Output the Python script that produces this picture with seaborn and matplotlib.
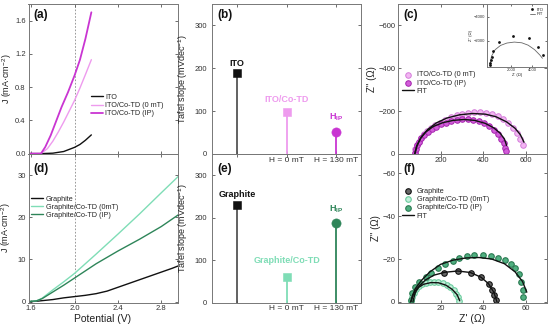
import pandas as pd
import matplotlib
matplotlib.use('Agg')
from matplotlib import pyplot as plt
import seaborn as sb

# ---------------- data ----------------
# (a) ITO based polarisation curves
pot_ito = [1.575, 1.7, 1.8, 1.9, 2.0, 2.05, 2.1, 2.155]
j_ito = [0.0, 0.0, 0.005, 0.025, 0.075, 0.11, 0.16, 0.225]
pot_ito0 = [1.575, 1.69, 1.75, 1.8, 1.85, 1.9, 1.95, 2.0, 2.05, 2.1, 2.155]
j_ito0 = [0.0, 0.0, 0.06, 0.15, 0.26, 0.38, 0.51, 0.64, 0.79, 0.95, 1.13]
pot_itoip = [1.575, 1.69, 1.73, 1.78, 1.83, 1.88, 1.94, 2.0, 2.05, 2.1, 2.155]
j_itoip = [0.0, 0.0, 0.08, 0.22, 0.39, 0.56, 0.74, 0.94, 1.13, 1.38, 1.70]

# (d) graphite based polarisation curves
pot_gr = [1.575, 1.65, 1.8, 1.9, 2.0, 2.1, 2.2, 2.3, 2.4, 2.5, 2.6, 2.7, 2.8, 2.9, 2.97]
j_gr = [0.0, 0.1, 0.5, 0.9, 1.2, 1.5, 1.9, 2.5, 3.4, 4.3, 5.2, 6.1, 7.0, 7.9, 8.6]
pot_gr0 = [1.575, 1.65, 1.7, 1.8, 1.9, 2.0, 2.2, 2.4, 2.6, 2.8, 2.97]
j_gr0 = [0.0, 0.2, 0.8, 2.8, 4.7, 6.7, 11.3, 16.0, 20.8, 25.8, 30.0]
pot_grip = [1.575, 1.65, 1.7, 1.8, 1.9, 2.0, 2.2, 2.4, 2.6, 2.8, 2.97]
j_grip = [0.0, 0.2, 0.7, 2.3, 3.9, 5.6, 9.0, 12.0, 14.8, 17.8, 20.8]

# (b), (e) Tafel slopes
tafel_cats = ['ref', 'H = 0 mT', 'H = 130 mT']
tafel_ito = [188, 97, 52]
tafel_gr = [230, 60, 187]
names_ito = ['ITO', 'ITO/Co-TD', r'$\mathbf{H_{IP}}$']
names_gr = ['Graphite', 'Graphite/Co-TD', r'$\mathbf{H_{IP}}$']

# (c) Nyquist, ITO/Co-TD
zr_ito0 = [78, 82, 88, 97, 108, 122, 138, 156, 176, 198, 222, 248, 275, 302, 330,
           358, 386, 414, 442, 468, 494, 518, 540, 558, 574, 588]
zi_ito0 = [-5, -22, -40, -58, -76, -93, -108, -122, -135, -147, -160, -172, -181, -188,
           -193, -196, -196, -193, -187, -177, -163, -145, -123, -98, -70, -40]
zr_itoip = [80, 84, 90, 99, 110, 124, 140, 158, 178, 200, 224, 250, 276, 302, 328,
            354, 380, 404, 428, 450, 470, 486, 498, 505, 508]
zi_itoip = [-5, -22, -40, -57, -73, -89, -103, -116, -128, -138, -147, -154, -159, -162,
            -162, -159, -153, -144, -131, -114, -94, -72, -50, -28, -12]
fit_zr_ito0 = [80, 90, 110, 140, 180, 230, 290, 350, 410, 460, 510, 550, 575, 592]
fit_zi_ito0 = [-2, -40, -80, -115, -145, -168, -183, -189, -186, -174, -150, -120, -90, -55]
fit_zr_itoip = [78, 88, 105, 130, 165, 210, 260, 310, 360, 410, 450, 480, 500, 510]
fit_zi_itoip = [0, -38, -72, -102, -128, -146, -157, -161, -157, -143, -122, -97, -70, -40]

# (c) inset, bare ITO
zr_ito = [0, 40, 90, 160, 300, 850, 2150, 3650, 4550, 4950]
zi_ito = [0, -150, -350, -600, -1100, -1880, -2400, -2200, -1480, -800]
fit_zr_ito = [0, 150, 500, 1000, 1600, 2300, 3000, 3600, 4200, 4700, 4940]
fit_zi_ito = [0, -700, -1250, -1600, -1800, -1880, -1820, -1620, -1250, -800, -530]

# (f) Nyquist, graphite
zr_gr = [21.5, 28, 34.3, 39.2, 42.8, 44, 45.1, 46]
zi_gr = [-13.4, -14.6, -13.7, -11.4, -8.3, -5.6, -3.3, -0.9]
zr_gr0 = [6, 6.5, 7.3, 8.4, 9.8, 11.4, 13.2, 15.1, 17, 19, 21, 22.9, 24.6, 26.1, 27.3, 28.2, 28.7]
zi_gr0 = [-0.5, -2.5, -4.3, -5.9, -7.2, -8.2, -8.9, -9.3, -9.4, -9.2, -8.7, -7.9, -6.8,
          -5.4, -3.8, -2.1, -0.5]
zr_grip = [6, 6.8, 8, 10, 13, 15.7, 18.8, 22.3, 25.7, 28.8, 32.2, 35.8, 39.7, 43.6, 47.1,
           50.2, 52.9, 54.9, 56.7, 58, 58.6, 58.7]
zi_grip = [-1, -4, -7, -9.5, -11.5, -13.7, -15.7, -17.6, -19.2, -20.4, -21.4, -22, -22.1,
           -21.6, -20.7, -19.6, -17.8, -15.6, -13.1, -9.5, -5.6, -2.5]
fit_zr_gr = [7, 8, 10, 13, 17, 22, 28, 34, 39, 42.5, 45, 46.5]
fit_zi_gr = [0, -4, -7.5, -10.3, -12.5, -13.8, -14.4, -13.7, -11.5, -8.5, -4.5, 0]
fit_zr_gr0 = [6, 7, 9, 12, 15.5, 19, 22.5, 25.5, 27.8, 29]
fit_zi_gr0 = [0, -3.5, -6.3, -8.2, -9, -8.9, -7.8, -5.8, -3.3, -0.5]
fit_zr_grip = [6, 8, 11, 15, 20, 26, 32, 38, 44, 50, 55, 58.5, 60.5]
fit_zi_grip = [0, -6, -10, -14, -17.5, -19.5, -20.5, -20.7, -20, -17.8, -14, -9.5, -4.5]

# ---------------- style ----------------
sb.set_style('ticks')
plt.rcParams['font.family'] = ['Liberation Sans', 'DejaVu Sans']
plt.rcParams.update({
    'mathtext.fontset': 'custom',
    'mathtext.rm': 'Liberation Sans',
    'mathtext.bf': 'Liberation Sans:bold',
    'mathtext.it': 'Liberation Sans:italic',
    'mathtext.default': 'regular',
    'xtick.direction': 'in', 'ytick.direction': 'in',
    'xtick.top': True, 'ytick.right': True,
    'xtick.major.size': 2.5, 'ytick.major.size': 2.5,
    'xtick.major.width': 0.6, 'ytick.major.width': 0.6,
    'xtick.labelsize': 5.5, 'ytick.labelsize': 5.5,
    'xtick.color': '#555555', 'ytick.color': '#555555',
    'xtick.labelcolor': '#333333', 'ytick.labelcolor': '#333333',
    'axes.edgecolor': '#777777', 'axes.linewidth': 0.7,
    'axes.labelsize': 7, 'axes.labelcolor': '#222222',
})

c_ito = '#111111'
c_ito0 = '#EE9BEE'
c_itoip = '#C935D2'
c_gr0 = '#7FDDB6'
c_grip = '#2E8559'

W, H = 550, 327
fig = plt.figure(figsize=(5.5, 3.27), dpi=100)


def box(x0, y0, x1, y1):
    return [x0 / W, 1 - y1 / H, (x1 - x0) / W, (y1 - y0) / H]


ax_a = fig.add_axes(box(28.5, 4, 177.5, 154))
ax_d = fig.add_axes(box(28.5, 154, 177.5, 302.5))
ax_b = fig.add_axes(box(212, 4, 361, 154))
ax_e = fig.add_axes(box(212, 154, 361, 302.5))
ax_c = fig.add_axes(box(398, 4, 547, 154))
ax_f = fig.add_axes(box(398, 154, 547, 302.5))
ax_in = fig.add_axes(box(486.7, 4, 547, 66.7))

# upper panels draw their tick labels over the lower ones
for ax in [ax_a, ax_b, ax_c, ax_d, ax_e, ax_f]:
    ax.patch.set_alpha(0)
for ax in [ax_a, ax_b, ax_c]:
    ax.set_zorder(2)
ax_in.set_zorder(3)

leg_kw = dict(frameon=False, fontsize=5.2, handlelength=1.6, handletextpad=0.4,
              labelspacing=0.15, borderpad=0.2, borderaxespad=0)

# ---------------- (a) ----------------
for px, jy, col, lab, lw in [(pot_ito, j_ito, c_ito, 'ITO', 1.0),
                             (pot_ito0, j_ito0, c_ito0, 'ITO/Co-TD (0 mT)', 1.0),
                             (pot_itoip, j_itoip, c_itoip, 'ITO/Co-TD (IP)', 1.3)]:
    sb.lineplot(x=px, y=jy, ax=ax_a, color=col, lw=lw, label=lab, sort=False)
ax_a.axvline(2.0, color='#888888', ls=(0, (2, 2)), lw=0.6, zorder=0)
ax_a.set_xlim(1.575, 2.95)
ax_a.set_ylim(-0.005, 1.8)
ax_a.set_xticks([1.6, 2.0, 2.4, 2.8])
ax_a.set_yticks([0.0, 0.4, 0.8, 1.2, 1.6])
ax_a.set_yticklabels(['0.0', '0.4', '0.8', '1.2', '1.6'])
ax_a.tick_params(labelbottom=False, axis='both', pad=2)
ax_a.set_ylabel('J (mA·cm$^{-2}$)', fontsize=6.5, labelpad=1)
ax_a.legend(loc='upper left', bbox_to_anchor=(0.41, 0.41), **leg_kw)

# ---------------- (d) ----------------
for px, jy, col, lab in [(pot_gr, j_gr, c_ito, 'Graphite'),
                         (pot_gr0, j_gr0, c_gr0, 'Graphite/Co-TD (0mT)'),
                         (pot_grip, j_grip, c_grip, 'Graphite/Co-TD (IP)')]:
    sb.lineplot(x=px, y=jy, ax=ax_d, color=col, lw=1.0, label=lab, sort=False)
ax_d.axvline(2.0, color='#888888', ls=(0, (2, 2)), lw=0.6, zorder=0)
ax_d.set_xlim(1.575, 2.95)
ax_d.set_ylim(-0.2, 35)
ax_d.set_xticks([1.6, 2.0, 2.4, 2.8])
ax_d.set_yticks([0, 10, 20, 30])
ax_d.tick_params(axis='both', pad=2)
ax_d.set_xlabel('Potential (V)', fontsize=7.5, labelpad=1)
ax_d.set_ylabel('J (mA·cm$^{-2}$)', fontsize=6.5, labelpad=3)
ax_d.legend(loc='upper left', bbox_to_anchor=(0.01, 0.73), **leg_kw)

# ---------------- (b), (e) ----------------
xpos = [0.5, 1.5, 2.5]


def tafel(ax, vals, names, cols, stem_cols, markers, name_y):
    for xp, v, nm, col, sc, mk, ny in zip(xpos, vals, names, cols, stem_cols, markers, name_y):
        ax.vlines(xp, 0, v, color=sc, lw=1.3, zorder=1)
        sb.scatterplot(x=[xp], y=[v], ax=ax, color=col, marker=mk,
                       s=44 if mk == 'o' else 36, edgecolor=col, linewidth=0.4, zorder=3)
        ax.text(xp, ny, nm, color=col, ha='center', va='center',
                fontsize=6.5, fontweight='bold')
    ax.set_xlim(0, 3)
    ax.set_ylim(0, 350)
    ax.set_yticks([0, 100, 200, 300])
    ax.set_xticks(xpos)
    ax.set_xticklabels([''] + tafel_cats[1:], fontsize=6)
    ax.tick_params(axis='x', pad=2)
    ax.set_ylabel('Tafel slope (mVdec$^{-1}$)', fontsize=6.5, labelpad=3)


tafel(ax_b, tafel_ito, names_ito, [c_ito, c_ito0, c_itoip],
      ['#555555', c_ito0, c_itoip], ['s', 's', 'o'], [210, 126, 86])
tafel(ax_e, tafel_gr, names_gr, [c_ito, c_gr0, c_grip],
      ['#555555', c_gr0, c_grip], ['s', 's', 'o'], [255, 100, 220])

# ---------------- (c) ----------------
sb.scatterplot(x=zr_ito0, y=zi_ito0, ax=ax_c, color='#F2B6F2', edgecolor='#D47CDA',
               linewidth=0.7, s=16, label='ITO/Co-TD (0 mT)', zorder=2)
sb.scatterplot(x=zr_itoip, y=zi_itoip, ax=ax_c, color='#D25CD9', edgecolor='#A524AE',
               linewidth=0.7, s=16, label='ITO/Co-TD (IP)', zorder=2)
sb.lineplot(x=fit_zr_ito0, y=fit_zi_ito0, ax=ax_c, color='#111111', lw=1.0,
            sort=False, label='FIT', zorder=3)
sb.lineplot(x=fit_zr_itoip, y=fit_zi_itoip, ax=ax_c, color='#111111', lw=1.0,
            sort=False, zorder=3)
ax_c.set_xlim(0, 700)
ax_c.set_ylim(0, -700)
ax_c.set_xticks([200, 400, 600])
ax_c.set_yticks([0, -200, -400, -600])
ax_c.tick_params(axis='both', pad=2)
ax_c.set_ylabel('Z" (Ω)', labelpad=1)
ax_c.legend(loc='upper left', bbox_to_anchor=(0.02, 0.56), markerscale=1.0, **leg_kw)

# inset
sb.scatterplot(x=zr_ito, y=zi_ito, ax=ax_in, color='#111111', s=4, linewidth=0,
               label='ITO', zorder=3)
sb.lineplot(x=fit_zr_ito, y=fit_zi_ito, ax=ax_in, color='#666666', lw=0.6,
            sort=False, label='FIT')
ax_in.set_xlim(-300, 5370)
ax_in.set_ylim(170, -5050)
ax_in.set_xticks([2000, 4000])
ax_in.set_yticks([-4000, -2000])
ax_in.tick_params(labelsize=3, length=1.2, pad=1)
ax_in.set_xlabel("Z' (Ω)", fontsize=3, labelpad=0.5)
ax_in.set_ylabel('Z" (Ω)', fontsize=3, labelpad=0.5)
ax_in.legend(loc='upper right', frameon=False, fontsize=3.2, handlelength=1.2,
             handletextpad=0.3, labelspacing=0.1, borderpad=0.3)

# ---------------- (f) ----------------
sb.scatterplot(x=zr_gr, y=zi_gr, ax=ax_f, color='#666666', edgecolor='#111111',
               linewidth=0.8, s=16, label='Graphite', zorder=2)
sb.scatterplot(x=zr_gr0, y=zi_gr0, ax=ax_f, color='#C3F0DA', edgecolor='#6BCB9E',
               linewidth=0.8, s=16, label='Graphite/Co-TD (0mT)', zorder=2)
sb.scatterplot(x=zr_grip, y=zi_grip, ax=ax_f, color='#4FAF80', edgecolor='#2B7A52',
               linewidth=0.8, s=16, label='Graphite/Co-TD (IP)', zorder=2)
sb.lineplot(x=fit_zr_gr, y=fit_zi_gr, ax=ax_f, color='#111111', lw=1.0,
            sort=False, label='FIT', zorder=3)
sb.lineplot(x=fit_zr_gr0, y=fit_zi_gr0, ax=ax_f, color='#111111', lw=1.0,
            sort=False, zorder=3)
sb.lineplot(x=fit_zr_grip, y=fit_zi_grip, ax=ax_f, color='#111111', lw=1.0,
            sort=False, zorder=3)
ax_f.set_xlim(0, 70)
ax_f.set_ylim(0.3, -69)
ax_f.set_xticks([20, 40, 60])
ax_f.set_yticks([0, -20, -40, -60])
ax_f.tick_params(axis='both', pad=2)
ax_f.set_xlabel("Z' (Ω)", fontsize=7.5, labelpad=1)
ax_f.set_ylabel('Z" (Ω)', labelpad=1)
ax_f.legend(loc='upper left', bbox_to_anchor=(0.02, 0.78), **leg_kw)

# panel letters
for ax, letter in [(ax_a, '(a)'), (ax_b, '(b)'), (ax_c, '(c)'),
                   (ax_d, '(d)'), (ax_e, '(e)'), (ax_f, '(f)')]:
    ax.text(0.035, 0.94 if ax in (ax_d, ax_e, ax_f) else 0.965, letter,
            transform=ax.transAxes, ha='left', va='top',
            fontsize=8.5, fontweight='bold', color='#111111')

plt.savefig('out.png', dpi=100)
